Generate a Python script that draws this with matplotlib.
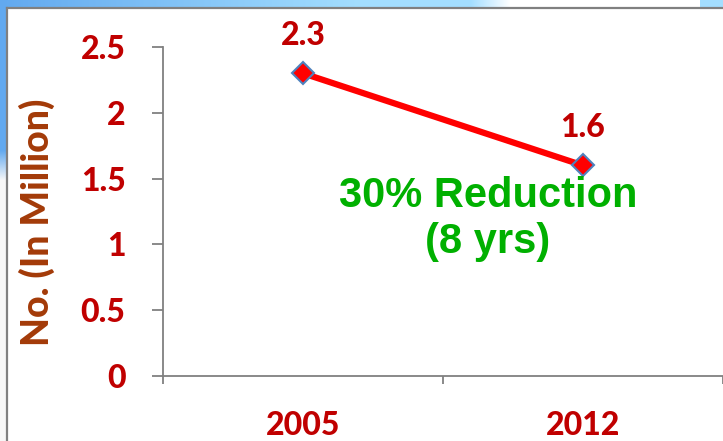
import numpy as np
import matplotlib
matplotlib.use("Agg")
import matplotlib.pyplot as plt
from matplotlib.colors import to_rgb

# data
years = ["2005", "2012"]
counts = [2.3, 1.6]          # million
y_ticks = [0, 0.5, 1, 1.5, 2, 2.5]
y_tick_labels = ["0", "0.5", "1", "1.5", "2", "2.5"]
note = "30% Reduction\n(8 yrs)"

W, H = 723, 441
fig = plt.figure(figsize=(W / 100, H / 100), dpi=100)

# slide background peeking out round the chart frame
bg = np.ones((H, W, 3))
c_left = np.array(to_rgb("#62a9ef"))
c_mid = np.array(to_rgb("#a3deff"))
xs = np.arange(W)
t = np.clip(xs / 360.0, 0, 1)[:, None]
top = c_left * (1 - t) + c_mid * t
fade = np.clip((xs - 470) / 40.0, 0, 1)[:, None]
top = top * (1 - fade) + fade
top[xs >= 700] = c_mid
bg[:8, :, :] = top[None, :, :]
for yy in range(H):
    f = np.clip((yy - 150) / 30.0, 0, 1)
    bg[yy, :7, :] = c_left * (1 - f) + np.array([0.97, 0.97, 0.97]) * f
bgax = fig.add_axes([0, 0, 1, 1])
bgax.imshow(bg, aspect="auto", interpolation="bilinear")
bgax.axis("off")

# chart frame
fig.add_artist(plt.Line2D([7 / W, 7 / W], [0, 1 - 8 / H], color="#808080", lw=1.6,
                          transform=fig.transFigure))
fig.add_artist(plt.Line2D([7 / W, 1], [1 - 8 / H, 1 - 8 / H], color="#808080", lw=1.6,
                          transform=fig.transFigure))

lab_font = dict(color="#c00000", fontsize=23, fontweight="black", family="Lato")

ax = fig.add_axes([163 / W, 1 - 376 / H, 1 - 163 / W, (376 - 47) / H])
ax.patch.set_alpha(0)
x = np.arange(len(years))
ax.plot(x, counts, color="#ff0000", lw=4.5, marker="D", markersize=11,
        markerfacecolor="#ff0000", markeredgecolor="#4f81bd", markeredgewidth=1.5,
        zorder=3, clip_on=False)

for xi, v in zip(x, counts):
    ax.annotate(f"{v}", (xi, v), xytext=(0, 27), textcoords="offset points",
                ha="center", va="center", **lab_font)

ax.text(0.661, 1.19, note, ha="center", va="center",
        color="#00b000", fontsize=30, fontweight="bold", family="Liberation Sans",
        linespacing=1.2)

ax.set_xlim(-0.5, 1.5)
ax.set_ylim(0, 2.5)
ax.set_xticks([-0.5, 0.5, 1.5])
ax.set_xticklabels([])
ax.set_xticks(x, minor=True)
ax.set_xticklabels(years, minor=True, **lab_font)
ax.tick_params(axis="x", which="minor", length=0, pad=25)
ax.tick_params(axis="x", which="major", length=6, width=1.3, color="#808080")

ax.set_yticks(y_ticks)
ax.set_yticklabels(y_tick_labels, **lab_font)
ax.tick_params(axis="y", length=8, width=1.3, color="#808080", pad=19)

for side in ["top", "right"]:
    ax.spines[side].set_visible(False)
for side in ["left", "bottom"]:
    ax.spines[side].set_color("#808080")
    ax.spines[side].set_linewidth(1.3)

fig.text(37 / W, 1 - 222 / H, "No. (In Million)", rotation=90, ha="center",
         va="center", color="#a33a08", fontsize=27, fontweight="black", family="Lato")

fig.savefig("out.png", dpi=100)
